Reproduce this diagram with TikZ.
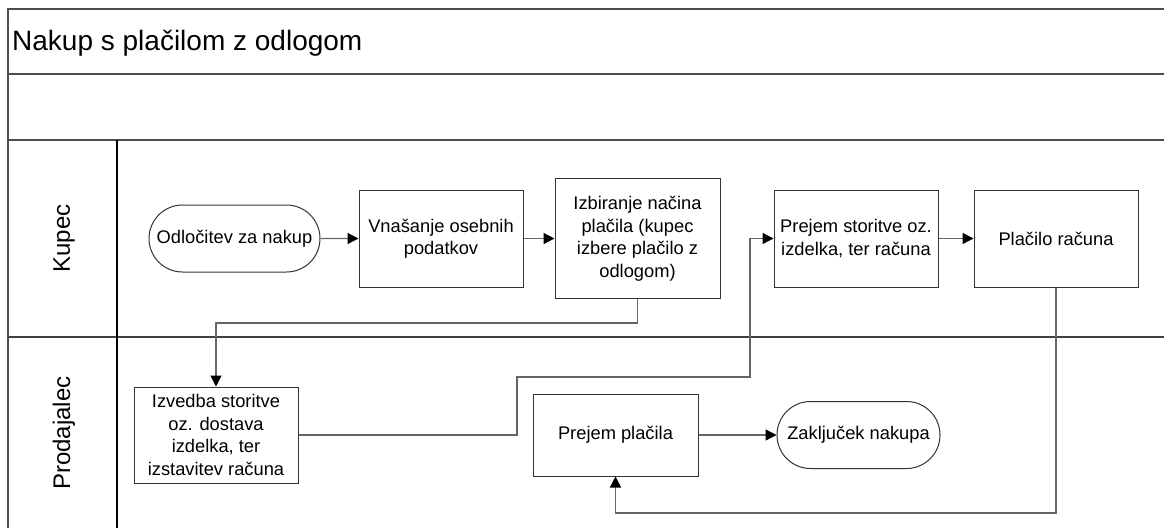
\documentclass[tikz,border=0pt]{standalone}
\usepackage{fontspec}
\setmainfont{Liberation Sans}
\usetikzlibrary{shapes.misc,arrows.meta}
\begin{document}
\begin{tikzpicture}[x=1pt,y=-1pt,
  frame/.style={draw=black!70,line width=1.6pt},
  lanediv/.style={draw=black!75,line width=2.6pt},
  proc/.style={draw=black!80,line width=1pt,rectangle,inner sep=0pt,align=center,
    font=\fontsize{18.3}{22.5}\selectfont,minimum width=164pt,minimum height=97pt},
  term/.style={draw=black!80,line width=1pt,rounded rectangle,inner sep=0pt,align=center,
    font=\fontsize{18.3}{22.5}\selectfont,minimum width=171pt,minimum height=67pt},
  lane/.style={rotate=90,font=\fontsize{24}{28}\selectfont,inner sep=0pt},
  conn/.style={draw=black!60,line width=1.3pt,-{Triangle[length=11pt,width=11pt,fill=black,color=black]}}]
\useasboundingbox (0,0) rectangle (1164,528);
% frame
\draw[frame] (8,528) -- (8,9) -- (1164,9);
\draw[frame,line width=1.3pt] (8,74) -- (1164,74);
\draw[frame] (8,140) -- (1164,140);
\draw[lanediv] (8,337) -- (1164,337);
\draw[draw=black,line width=1.3pt] (117,140) -- (117,528);
\node[anchor=base west,font=\fontsize{28}{33}\selectfont,inner sep=0pt] (title) at (12,50) {Nakup s plačilom z odlogom};
\node[lane] (kupec) at (64,238.5) {Kupec};
\node[lane] (prod) at (64,433) {Prodajalec};
% nodes
\node[term] (odl) at (234.5,238.5) {Odločitev za nakup};
\node[proc] (vna) at (441,238.5) {Vnašanje osebnih\\podatkov};
\node[proc,minimum width=165pt,minimum height=120pt] (izb) at (637.5,238.5) {Izbiranje načina\\plačila (kupec\\izbere plačilo z\\odlogom)};
\node[proc] (pst) at (856,238.5) {Prejem storitve oz.\\izdelka, ter računa};
\node[proc] (pla) at (1056,238.5) {Plačilo računa};
\node[proc,minimum width=164pt,minimum height=96pt] (izv) at (216,435) {Izvedba storitve\\oz. dostava\\izdelka, ter\\izstavitev računa};
\node[proc,minimum width=165pt,minimum height=82pt] (pp) at (615.5,435) {Prejem plačila};
\node[term,minimum width=163pt] (zak) at (858.5,435) {Zaključek nakupa};
% bend points
\coordinate (dn) at (0,323);
\coordinate (b1) at (517,377);
\coordinate (b2) at (750,377);
\coordinate (ret) at (0,513);
% connectors
\draw[conn] (odl) -- (vna);
\draw[conn] (vna) -- (izb);
\draw[conn] (izb.south) -- (izb.south |- dn) -| (izv.north);
\draw[conn] (izv.east) -| (b1) -- (b2) |- (pst.west);
\draw[conn] (pst) -- (pla);
\draw[conn] (pla.south) -- (pla.south |- ret) -| (pp.south);
\draw[conn] (pp) -- (zak);
\end{tikzpicture}
\end{document}
